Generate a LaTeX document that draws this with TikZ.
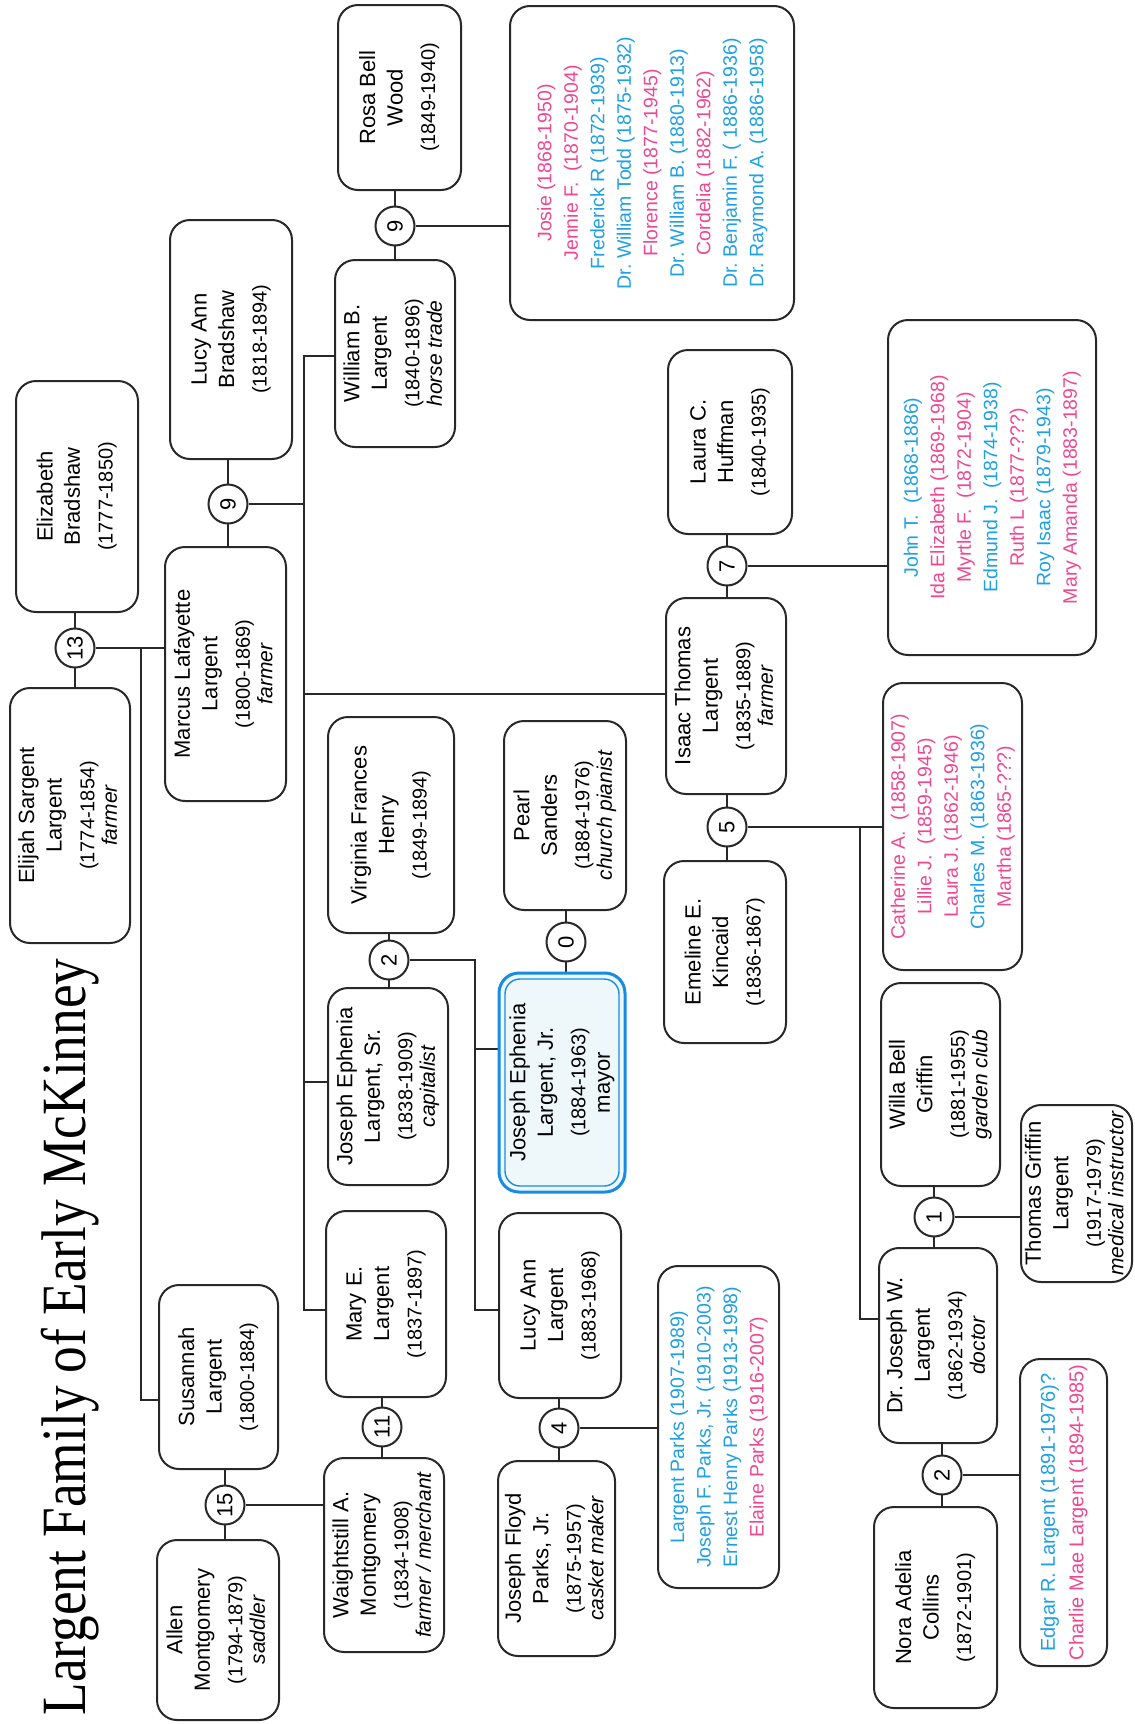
\documentclass[tikz,border=0pt]{standalone}
\usepackage{graphicx}
\usepackage{fontspec}
\setmainfont{Liberation Sans}
\newfontfamily\titlefont{Liberation Serif}
\usetikzlibrary{backgrounds}
\definecolor{linec}{RGB}{40,40,40}
\definecolor{pinkc}{RGB}{238,72,146}
\definecolor{bluec}{RGB}{30,160,228}
\definecolor{jrblue}{RGB}{25,140,225}
\definecolor{jrfill}{RGB}{238,248,250}
\newcommand\rb[1]{\rotatebox{90}{\begin{tabular}{@{}c@{}}#1\end{tabular}}}
\newcommand\kl[1]{\rotatebox{90}{\fontsize{19.5}{26.5}\selectfont\begin{tabular}{@{}c@{}}#1\end{tabular}}}
\newcommand\kll[1]{\rotatebox{90}{\fontsize{20}{28.5}\selectfont\begin{tabular}{@{}c@{}}#1\end{tabular}}}
\newcommand\dt[1]{{\fontsize{20}{27}\selectfont #1}}
\newcommand\oc[1]{\noalign{\vskip-5pt}{\fontsize{21}{27}\selectfont\itshape #1}}
\newcommand\pk[1]{\textcolor{pinkc}{#1}}
\newcommand\bl[1]{\textcolor{bluec}{#1}}
\tikzset{
  every node/.style={font=\fontsize{22}{27.5}\selectfont\frenchspacing},
  pbox/.style={draw=linec, line width=2pt, rounded corners=20pt, inner sep=0pt, align=center},
  cnode/.style={circle, draw=linec, line width=2pt, fill=white, minimum size=39pt, inner sep=0pt},
  conn/.style={draw=linec, line width=2pt},
}
\newcommand\pbx[7][]{\node[pbox,#1, minimum width={#4pt-#3pt}, minimum height={#6pt-#5pt}] (#2) at ({(#3+#4)/2},{(#5+#6)/2}) {#7};}
\newcommand\cnum[4]{\node[cnode] (#1) at (#2,#3) {\rotatebox{90}{#4}};}
\begin{document}
\begin{tikzpicture}[x=1pt,y=-1pt]
\useasboundingbox (0,0) rectangle (1135,1724);
% title
\node[rotate=90, anchor=base, inner sep=0pt] (title) at (85,1337) {\titlefont\fontsize{63}{70}\selectfont\scalebox{0.846}[1]{Largent Family of Early McKinney}};
% boxes
\pbx{elijah}{10}{130}{688}{943}{\rb{Elijah Sargent\\Largent\\[5pt]\dt{(1774-1854)}\\\oc{farmer}}}
\pbx{elizabeth}{16}{138}{381}{612}{\rb{Elizabeth\\Bradshaw\\[5pt]\dt{(1777-1850)}}}
\pbx{marcus}{165}{286}{547}{801}{\rb{Marcus Lafayette\\Largent\\[5pt]\dt{(1800-1869)}\\\oc{farmer}}}
\pbx{lucyb}{170}{292}{220}{459}{\rb{Lucy Ann\\Bradshaw\\[5pt]\dt{(1818-1894)}}}
\pbx{william}{335}{455}{260}{447}{\rb{William B.\\Largent\\[5pt]\dt{(1840-1896)}\\\oc{horse trade}}}
\pbx{rosa}{338}{461}{5}{190}{\rb{Rosa Bell\\Wood\\[5pt]\dt{(1849-1940)}}}
\pbx{josie}{510}{794}{6}{320}{\kl{\pk{Josie (1868-1950)}\\\pk{Jennie F.~ (1870-1904)}\\\bl{Frederick R (1872-1939)}\\\bl{Dr. William Todd (1875-1932)}\\\pk{Florence (1877-1945)}\\\bl{Dr. William B. (1880-1913)}\\\pk{Cordelia (1882-1962)}\\\bl{Dr. Benjamin F. ( 1886-1936)}\\\bl{Dr. Raymond A. (1886-1958)}}}
\pbx{laura}{668}{792}{350}{534}{\rb{Laura C.\\Huffman\\[5pt]\dt{(1840-1935)}}}
\pbx{isaac}{666}{786}{598}{794}{\rb{Isaac Thomas\\Largent\\[5pt]\dt{(1835-1889)}\\\oc{farmer}}}
\pbx{johnt}{888}{1096}{320}{655}{\kl{\bl{John T.~ (1868-1886)}\\\pk{Ida Elizabeth (1869-1968)}\\\pk{Myrtle F.~ (1872-1904)}\\\bl{Edmund J.~ (1874-1938)}\\\pk{Ruth L (1877-???)}\\\bl{Roy Isaac (1879-1943)}\\\pk{Mary Amanda (1883-1897)}}}
\pbx{emeline}{664}{786}{861}{1043}{\rb{Emeline E.\\Kincaid\\[5pt]\dt{(1836-1867)}}}
\pbx{cath}{883}{1022}{683}{970}{\kl{\pk{Catherine A.~ (1858-1907)}\\\pk{Lillie J.~ (1859-1945)}\\\pk{Laura J. (1862-1946)}\\\bl{Charles M. (1863-1936)}\\\pk{Martha (1865-???)}}}
\pbx{virginia}{328}{454}{717}{933}{\rb{Virginia Frances\\Henry\\[5pt]\dt{(1849-1894)}}}
\pbx{pearl}{504}{626}{721}{910}{\rb{Pearl\\Sanders\\[5pt]\dt{(1884-1976)}\\\oc{church pianist}}}
\pbx{josephsr}{328}{448}{988}{1185}{\rb{Joseph Ephenia\\Largent, Sr.\\[5pt]\dt{(1838-1909)}\\\oc{capitalist}}}
\pbx[draw=jrblue, line width=3pt, fill=jrfill]{josephjr}{499}{625}{973}{1192}{\rb{Joseph Ephenia\\Largent, Jr.\\[5pt]\dt{(1884-1963)}\\\noalign{\vskip-3pt}mayor}}
\draw[jrblue, line width=1.4pt, rounded corners=15pt] (505,979) rectangle (619,1186);
\pbx{willa}{881}{1000}{983}{1186}{\rb{Willa Bell\\Griffin\\[5pt]\dt{(1881-1955)}\\\oc{garden club}}}
\pbx{thomas}{1021}{1132}{1105}{1282}{\rb{Thomas Griffin\\Largent\\[5pt]\dt{(1917-1979)}\\\oc{medical instructor}}}
\pbx{drjoseph}{879}{997}{1248}{1443}{\rb{Dr. Joseph W.\\Largent\\[5pt]\dt{(1862-1934)}\\\oc{doctor}}}
\pbx{nora}{874}{997}{1507}{1708}{\rb{Nora Adelia\\Collins\\[5pt]\dt{(1872-1901)}}}
\pbx{edgar}{1020}{1107}{1359}{1666}{\kll{\bl{Edgar R. Largent (1891-1976)?}\\\pk{Charlie Mae Largent (1894-1985)}}}
\pbx{marye}{326}{446}{1211}{1397}{\rb{Mary E.\\Largent\\[5pt]\dt{(1837-1897)}}}
\pbx{waight}{324}{444}{1458}{1652}{\rb{Waightstill A.\\Montgomery\\[5pt]\dt{(1834-1908)}\\\oc{farmer / merchant}}}
\pbx{susannah}{159}{278}{1285}{1469}{\rb{Susannah\\Largent\\[5pt]\dt{(1800-1884)}}}
\pbx{allen}{157}{279}{1540}{1720}{\rb{Allen\\Montgomery\\[5pt]\dt{(1794-1879)}\\\oc{saddler}}}
\pbx{lucyl}{499}{621}{1213}{1398}{\rb{Lucy Ann\\Largent\\[5pt]\dt{(1883-1968)}}}
\pbx{floyd}{498}{615}{1461}{1656}{\rb{Joseph Floyd\\Parks, Jr.\\[5pt]\dt{(1875-1957)}\\\oc{casket maker}}}
\pbx{parks}{658}{779}{1266}{1588}{\kl{\bl{Largent Parks (1907-1989)}\\\bl{Joseph F. Parks, Jr. (1910-2003)}\\\bl{Ernest Henry Parks (1913-1998)}\\\pk{Elaine Parks (1916-2007)}}}
% marriage circles
\cnum{c13}{75}{648}{13}
\cnum{c9m}{228}{504}{9}
\cnum{c9t}{395}{226}{9}
\cnum{c7}{727}{566}{7}
\cnum{c5}{727}{827}{5}
\cnum{c2a}{389}{960}{2}
\cnum{c0}{566}{942}{0}
\cnum{c1}{934}{1217}{1}
\cnum{c2b}{942}{1475}{2}
\cnum{c11}{382}{1427}{11}
\cnum{c15}{225}{1505}{15}
\cnum{c4}{559}{1428}{4}
% junctions
\coordinate (j13) at (141,648);
\coordinate (jsus) at (141,1400);
\coordinate (jm) at (304,504);
\coordinate (jwil) at (304,356);
\coordinate (jisa) at (304,694);
\coordinate (jjsr) at (304,1082);
\coordinate (jmary) at (304,1310);
\coordinate (jc5) at (860,827);
\coordinate (jdr) at (860,1319);
\coordinate (j2a) at (475,960);
\coordinate (jjr) at (475,1049);
\coordinate (jlucy) at (475,1310);
\begin{pgfonlayer}{background}
\draw[conn] (c13 |- elizabeth.south) -- (c13 |- elijah.north);
\draw[conn] (c13) -- (c13 -| marcus.west);
\draw[conn] (j13) -- (jsus) -- (jsus -| susannah.west);
\draw[conn] (c9m |- lucyb.south) -- (c9m |- marcus.north);
\draw[conn] (c9m) -- (jm);
\draw[conn] (jwil -| william.west) -- (jwil) -- (jmary) -- (jmary -| marye.west);
\draw[conn] (jisa) -- (jisa -| isaac.west);
\draw[conn] (jjsr) -- (jjsr -| josephsr.west);
\draw[conn] (c9t |- rosa.south) -- (c9t |- william.north);
\draw[conn] (c9t) -- (c9t -| josie.west);
\draw[conn] (c7 |- laura.south) -- (c7 |- isaac.north);
\draw[conn] (c7) -- (c7 -| johnt.west);
\draw[conn] (c5 |- isaac.south) -- (c5 |- emeline.north);
\draw[conn] (c5) -- (c5 -| cath.west);
\draw[conn] (jc5) -- (jdr) -- (jdr -| drjoseph.west);
\draw[conn] (c2a |- virginia.south) -- (c2a |- josephsr.north);
\draw[conn] (c2a) -- (j2a) -- (jlucy) -- (jlucy -| lucyl.west);
\draw[conn] (jjr) -- (jjr -| josephjr.west);
\draw[conn] (c0 |- pearl.south) -- (c0 |- josephjr.north);
\draw[conn] (c1 |- willa.south) -- (c1 |- drjoseph.north);
\draw[conn] (c1) -- (c1 -| thomas.west);
\draw[conn] (c2b |- drjoseph.south) -- (c2b |- nora.north);
\draw[conn] (c2b) -- (c2b -| edgar.west);
\draw[conn] (c11 |- marye.south) -- (c11 |- waight.north);
\draw[conn] (c15 |- susannah.south) -- (c15 |- allen.north);
\draw[conn] (c15) -- (c15 -| waight.west);
\draw[conn] (c4 |- lucyl.south) -- (c4 |- floyd.north);
\draw[conn] (c4) -- (c4 -| parks.west);
\end{pgfonlayer}
\end{tikzpicture}
\end{document}
